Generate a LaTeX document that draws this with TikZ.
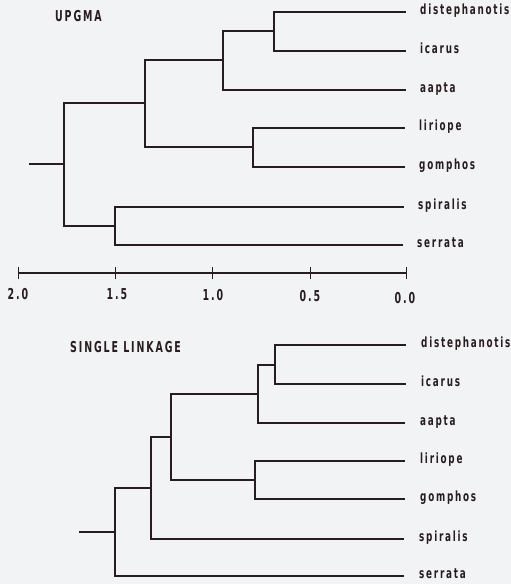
\documentclass[tikz,border=0pt]{standalone}
\usepackage{graphicx}
\usepackage{fontspec}
\newfontfamily\labfont[LetterSpace=18]{DejaVu Sans Condensed Bold}
\newcommand{\nrw}[1]{\scalebox{0.7}[1]{#1}}
\definecolor{bg}{HTML}{F1F3F4}
\definecolor{ink}{HTML}{2A1C1E}
\begin{document}
\begin{tikzpicture}[x=1pt,y=-1pt,
  br/.style={draw=ink,line width=2.1pt},
  lab/.style={anchor=mid west,inner sep=0pt,text=ink,font=\labfont\fontsize{14}{16}\selectfont},
  tit/.style={anchor=mid west,inner sep=0pt,text=ink,font=\labfont\fontsize{15}{17}\selectfont},
  tick/.style={anchor=north,inner sep=0pt,text=ink,font=\labfont\fontsize{15}{17}\selectfont}]
\useasboundingbox[fill=bg] (0,0) rectangle (511,584);
% ---------- UPGMA ----------
\node[tit] (t1) at (55,19) {\nrw{UPGMA}};
\coordinate (ud) at (406,12);
\coordinate (ui) at (406,51);
\coordinate (ua) at (406,90);
\coordinate (ul) at (405,128);
\coordinate (ug) at (405,167);
\coordinate (usp) at (404,207);
\coordinate (use) at (403,245);
\node[lab] (lud) at (420,12) {\nrw{distephanotis}};
\node[lab] (lui) at (420,51) {\nrw{icarus}};
\node[lab] (lua) at (420,90) {\nrw{aapta}};
\node[lab] (lul) at (419,128) {\nrw{liriope}};
\node[lab] (lug) at (419,167) {\nrw{gomphos}};
\node[lab] (lusp) at (418,207) {\nrw{spiralis}};
\node[lab] (luse) at (417,245) {\nrw{serrata}};
\coordinate (u1) at (274,31);
\coordinate (u2) at (223,60);
\coordinate (u3) at (253,147);
\coordinate (u4) at (145,103);
\coordinate (u5) at (115,226);
\coordinate (u6) at (64,164);
\coordinate (ur) at (29,164);
\draw[br] (u1) |- (ud);
\draw[br] (u1) |- (ui);
\draw[br] (u2) |- (u1);
\draw[br] (u2) |- (ua);
\draw[br] (u3) |- (ul);
\draw[br] (u3) |- (ug);
\draw[br] (u4) |- (u2);
\draw[br] (u4) |- (u3);
\draw[br] (u5) |- (usp);
\draw[br] (u5) |- (use);
\draw[br] (u6) |- (u4);
\draw[br] (u6) |- (u5);
\draw[br] (ur) -- (u6);
% ---------- scale ----------
\coordinate (s20) at (18,273);
\coordinate (s15) at (115,273);
\coordinate (s10) at (212,273);
\coordinate (s05) at (310,273);
\coordinate (s00) at (406,273);
\draw[br] (s20) -- (s00);
\foreach \p in {s20,s15,s10,s05,s00}
  \draw[draw=ink,line width=1pt] ([yshift=-6pt]\p) -- ([yshift=6pt]\p);
\node[tick] (k20) at (18,288) {\nrw{2.0}};
\node[tick] (k15) at (117,288) {\nrw{1.5}};
\node[tick] (k10) at (213,289) {\nrw{1.0}};
\node[tick] (k05) at (310,290) {\nrw{0.5}};
\node[tick] (k00) at (405,292) {\nrw{0.0}};
% ---------- SINGLE LINKAGE ----------
\node[tit] (t2) at (70,350) {\nrw{SINGLE LINKAGE}};
\coordinate (sd) at (406,345);
\coordinate (si) at (406,384);
\coordinate (sa) at (405,423);
\coordinate (sl) at (405,461);
\coordinate (sg) at (405,499);
\coordinate (ssp) at (404,539);
\coordinate (sse) at (404,576);
\node[lab] (lsd) at (421,345) {\nrw{distephanotis}};
\node[lab] (lsi) at (421,384) {\nrw{icarus}};
\node[lab] (lsa) at (420,423) {\nrw{aapta}};
\node[lab] (lsl) at (420,461) {\nrw{liriope}};
\node[lab] (lsg) at (420,499) {\nrw{gomphos}};
\node[lab] (lssp) at (419,539) {\nrw{spiralis}};
\node[lab] (lsse) at (419,576) {\nrw{serrata}};
\coordinate (v1) at (275,365);
\coordinate (v2) at (258,394);
\coordinate (v3) at (255,480);
\coordinate (v4) at (171,437);
\coordinate (v5) at (151,488);
\coordinate (v6) at (115,532);
\coordinate (vr) at (79,532);
\draw[br] (v1) |- (sd);
\draw[br] (v1) |- (si);
\draw[br] (v2) |- (v1);
\draw[br] (v2) |- (sa);
\draw[br] (v3) |- (sl);
\draw[br] (v3) |- (sg);
\draw[br] (v4) |- (v2);
\draw[br] (v4) |- (v3);
\draw[br] (v5) |- (v4);
\draw[br] (v5) |- (ssp);
\draw[br] (v6) |- (v5);
\draw[br] (v6) |- (sse);
\draw[br] (vr) -- (v6);
\end{tikzpicture}
\end{document}
